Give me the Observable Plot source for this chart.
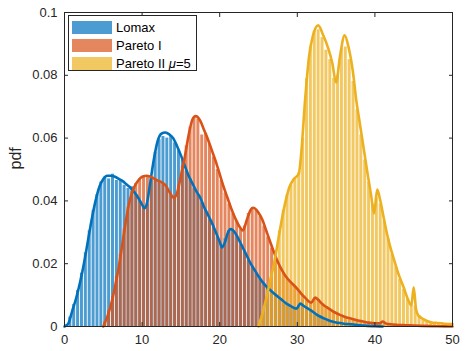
<!DOCTYPE html>
<html>
<head>
<meta charset="utf-8">
<script src="https://cdn.jsdelivr.net/npm/d3@7"></script>
<script src="https://cdn.jsdelivr.net/npm/@observablehq/plot@0.6"></script>
<style>
  body { margin: 0; background: #fff; }
  #wrap { position: relative; width: 471px; height: 351px; font-family: "Liberation Sans", Arial, sans-serif; }
  #legend { position: absolute; left: 68px; top: 15px; width: 127px; height: 54px; border: 1px solid #262626; background: #fff; font-size: 13px; color: #000; }
  .row { position: absolute; left: 3px; height: 14px; display: flex; align-items: center; }
  .sw { width: 40px; height: 13px; margin-right: 4px; }
</style>
</head>
<body>
<div id="wrap"><div id="legend"></div></div>
<script>
// ---- data ----
const seriesNames = ["Lomax", "Pareto I", "Pareto II μ=5"];
const seriesColors = ["#0072BD", "#D95319", "#EDB120"];
const binWidth = 0.5;
const xTicks = [0, 10, 20, 30, 40, 50];
const yTicks = [0, 0.02, 0.04, 0.06, 0.08, 0.1];

// histogram bar heights (pdf), bins of width 0.5 from the given start
const lomaxStart = 0;
const lomaxBars = [0.0005,0.003,0.007,0.0115,0.017,0.0235,0.0305,0.037,0.042,0.046,
  0.0475,0.047,0.0485,0.0465,0.0465,0.045,0.044,0.0445,0.042,0.040,
  0.038,0.039,0.0475,0.0555,0.0595,0.0605,0.060,0.0605,0.0585,0.056,
  0.053,0.0495,0.047,0.044,0.042,0.0395,0.037,0.034,0.0315,0.0285,
  0.026,0.028,0.0305,0.0305,0.029,0.026,0.024,0.021,0.019,0.017,
  0.015,0.0135,0.0122,0.011,0.010,0.009,0.008,0.007,0.0063,0.006,
  0.0068,0.0068,0.006,0.005,0.0042,0.0034,0.0028,0.0022,0.0018,0.0014,
  0.0012,0.001,0.0008,0.0008,0.0006,0.0005,0.0004,0.0003,0.0002,0.0001];
const paretoIStart = 5;
const paretoIBars = [0.0015,0.005,0.0095,0.016,0.023,0.031,0.038,0.043,0.0455,0.047,
  0.0475,0.0475,0.047,0.0465,0.046,0.0455,0.044,0.042,0.0415,0.045,
  0.051,0.0575,0.0635,0.0665,0.066,0.061,0.0615,0.058,0.054,0.050,
  0.0465,0.0425,0.039,0.036,0.0335,0.031,0.032,0.036,0.0375,0.037,
  0.035,0.032,0.0285,0.025,0.022,0.019,0.017,0.015,0.014,0.0127,
  0.0112,0.0098,0.0086,0.0079,0.0088,0.0085,0.0072,0.0062,0.0054,0.0046,
  0.004,0.0035,0.003,0.0027,0.0023,0.002,0.0017,0.0015,0.0012,0.0011,
  0.001,0.0013,0.0012,0.0008,0.0007,0.0006,0.0005,0.0004,0.0004,0.0003,
  0.0003,0.0003,0.0002,0.0002,0.0002,0.0002,0.0001,0.0001,0.0001,0.0001];
const paretoIIStart = 25;
const paretoIIBars = [0.002,0.0065,0.0115,0.017,0.0235,0.0305,0.037,0.042,0.045,0.047,
  0.049,0.060,0.079,0.089,0.094,0.0945,0.092,0.088,0.085,0.079,
  0.080,0.0885,0.089,0.085,0.078,0.069,0.061,0.053,0.046,0.039,
  0.041,0.039,0.0335,0.028,0.023,0.019,0.015,0.0118,0.0088,0.0072,
  0.0065,0.0035,0.0025,0.0018,0.0014,0.0012,0.0011,0.001,0.0009,0.0008];

// fitted density curves
const lomaxCurveX = [0,0.5,1,1.5,2,2.5,3,3.5,4,4.5,5,5.5,6,6.5,7,7.5,8,8.5,9,9.5,10,10.3,10.6,11,11.5,12,12.5,13,13.5,14,14.5,15,15.5,16,16.5,17,17.5,18,18.5,19,19.5,20,20.3,20.7,21,21.4,22,22.5,23,23.5,24,24.5,25,25.5,26,26.5,27,27.5,28,28.5,29,29.5,29.9,30.4,30.8,31.5,32,32.5,33,33.5,34,34.5,35,35.5,36,37,38,39,40,41];
const lomaxCurveY = [0,0.001,0.005,0.009,0.014,0.020,0.027,0.034,0.040,0.0445,0.047,0.048,0.048,0.0477,0.047,0.0463,0.0452,0.0442,0.0428,0.041,0.0388,0.0377,0.039,0.045,0.053,0.059,0.0614,0.0618,0.0612,0.060,0.0575,0.0545,0.0512,0.048,0.0455,0.043,0.041,0.038,0.0355,0.033,0.030,0.027,0.0252,0.027,0.0295,0.031,0.0298,0.0275,0.025,0.0225,0.020,0.018,0.016,0.0142,0.0128,0.0116,0.0105,0.0095,0.0085,0.0075,0.0067,0.006,0.0057,0.0073,0.0066,0.0055,0.0047,0.0038,0.0031,0.0025,0.002,0.0016,0.0013,0.0011,0.0009,0.0007,0.0004,0.0002,0.0001,0];

const paretoICurveX = [5,5.5,6,6.5,7,7.5,8,8.5,9,9.5,10,10.6,11,11.5,12,12.5,13,13.5,14.1,14.5,15,15.5,16,16.5,16.9,17.5,18,18.5,19,19.5,20,20.5,21,21.5,22,22.5,23,23.5,24,24.3,24.7,25,25.5,26,26.5,27,27.5,28,28.5,29,29.5,30,30.5,31,31.8,32.3,32.7,33,33.5,34,34.5,35,35.5,36,36.5,37,38,39,40,40.6,41,41.4,42,43,44,45,46,48,50];
const paretoICurveY = [0,0.003,0.007,0.0125,0.019,0.027,0.035,0.041,0.0445,0.0465,0.0477,0.048,0.0478,0.0472,0.0465,0.046,0.045,0.043,0.041,0.0425,0.048,0.054,0.061,0.066,0.067,0.0655,0.0625,0.0595,0.056,0.0525,0.0485,0.0445,0.041,0.0375,0.0345,0.032,0.0306,0.034,0.0372,0.0378,0.0372,0.0362,0.034,0.0305,0.027,0.0236,0.0205,0.018,0.016,0.0145,0.0133,0.012,0.0105,0.0092,0.0076,0.0092,0.0085,0.0077,0.0066,0.0058,0.005,0.0043,0.0037,0.0032,0.0028,0.0025,0.0018,0.0013,0.001,0.001,0.0016,0.001,0.0007,0.0005,0.0004,0.0003,0.0002,0.0001,0];

const paretoIICurveX = [25,25.5,26,26.5,27,27.5,28,28.5,29,29.5,30.2,30.5,31,31.5,32,32.7,33.3,34,34.5,35,35.5,36.1,36.6,37.2,37.6,38,38.6,39,39.5,39.9,40.3,40.7,41.2,41.7,42.5,43,43.7,44.2,44.7,45,45.3,45.6,46,46.5,47.3,48,49,50];
const paretoIICurveY = [0,0.004,0.009,0.0146,0.020,0.027,0.034,0.040,0.0445,0.0468,0.0487,0.055,0.072,0.0857,0.0925,0.0959,0.093,0.0885,0.084,0.0777,0.086,0.0927,0.089,0.0805,0.072,0.0656,0.056,0.0495,0.042,0.036,0.0436,0.040,0.0338,0.028,0.021,0.017,0.0125,0.009,0.0067,0.0125,0.0055,0.0035,0.0027,0.002,0.0013,0.0011,0.0009,0.0008];

// ---- build tables ----
function bars(start, vals, s) {
  return vals.map((v, i) => ({x1: start + i * binWidth, x2: start + (i + 1) * binWidth, y: v, s}));
}
function curve(xs, ys, s) { return xs.map((x, i) => ({x, y: ys[i], s})); }

const barData = [
  bars(lomaxStart, lomaxBars, 0),
  bars(paretoIStart, paretoIBars, 1),
  bars(paretoIIStart, paretoIIBars, 2)
];
const curveData = [
  curve(lomaxCurveX, lomaxCurveY, 0),
  curve(paretoICurveX, paretoICurveY, 1),
  curve(paretoIICurveX, paretoIICurveY, 2)
];

const axisColor = "#262626";
const marks = [];
barData.forEach((d, k) => marks.push(Plot.rectY(d, {x1: "x1", x2: "x2", y: "y", fill: seriesColors[k], fillOpacity: 0.7, insetLeft: 0.45, insetRight: 0.45})));
curveData.forEach((d, k) => marks.push(Plot.line(d, {x: "x", y: "y", stroke: seriesColors[k], strokeWidth: 2.6, curve: "monotone-x"})));
marks.push(
  Plot.axisX(xTicks, {anchor: "bottom", tickSize: 0, tickPadding: 8, fontSize: 13, color: axisColor, label: null}),
  Plot.axisX(xTicks, {anchor: "bottom", tickSize: -4, tickFormat: () => "", stroke: axisColor, label: null}),
  Plot.axisX(xTicks, {anchor: "top", tickSize: -4, tickFormat: () => "", stroke: axisColor, label: null}),
  Plot.axisY(yTicks, {anchor: "left", tickSize: 0, tickPadding: 7, fontSize: 13, color: axisColor, label: null, tickFormat: d => d === 0 ? "0" : String(+d.toFixed(2))}),
  Plot.axisY(yTicks, {anchor: "left", tickSize: -4, tickFormat: () => "", stroke: axisColor, label: null}),
  Plot.axisY(yTicks, {anchor: "right", tickSize: -4, tickFormat: () => "", stroke: axisColor, label: null}),
  Plot.frame({stroke: axisColor, strokeWidth: 1}),
  Plot.text(["pdf"], {frameAnchor: "left", dx: -49, rotate: -90, text: d => d, fontSize: 16, fill: axisColor})
);

const chart = Plot.plot({
  width: 471, height: 351,
  marginLeft: 64, marginRight: 19, marginTop: 12, marginBottom: 25,
  x: {domain: [0, 50]},
  y: {domain: [0, 0.1]},
  style: {fontFamily: "'Liberation Sans', Arial, sans-serif", background: "white", color: axisColor},
  marks
});
document.getElementById("wrap").prepend(chart);

// legend
const legend = document.getElementById("legend");
seriesNames.forEach((name, k) => {
  const row = document.createElement("div");
  row.className = "row";
  row.style.top = (4 + k * 18) + "px";
  const sw = document.createElement("div");
  sw.className = "sw";
  sw.style.background = seriesColors[k];
  sw.style.opacity = 0.7;
  const lab = document.createElement("span");
  if (name.includes("μ")) {
    const parts = name.split("μ");
    lab.append(parts[0]);
    const it = document.createElement("i"); it.textContent = "μ"; lab.append(it);
    lab.append(parts[1]);
  } else lab.textContent = name;
  row.append(sw, lab);
  legend.append(row);
});
</script>
</body>
</html>
